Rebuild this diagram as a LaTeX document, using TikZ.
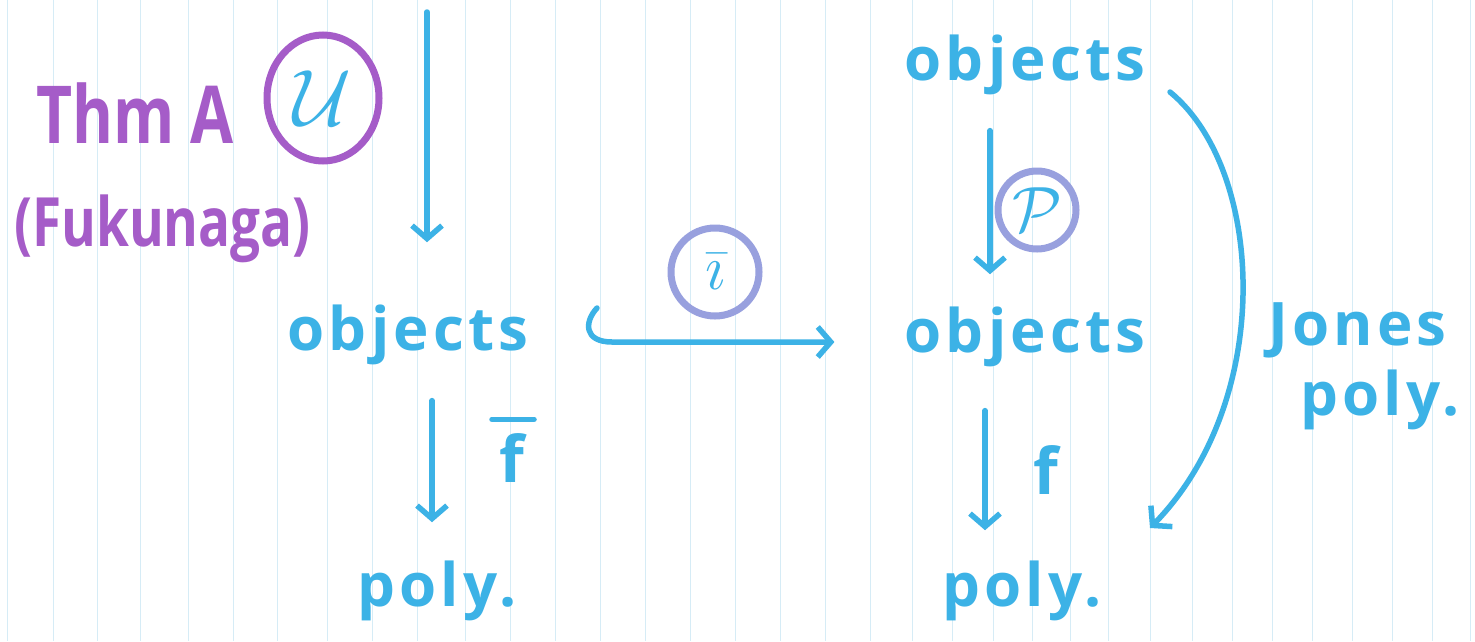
\RequirePackage{fix-cm}
\documentclass[tikz,border=0pt]{standalone}
\usepackage{fontspec}
\setmainfont{Open Sans}
\newfontfamily\hand[LetterSpace=7]{Open Sans}
\newfontfamily\handn[FakeStretch=0.78]{Open Sans}
\usetikzlibrary{arrows.meta,shapes.geometric}
\definecolor{inkblue}{RGB}{60,178,230}
\definecolor{inkpurple}{RGB}{165,92,200}
\definecolor{inklav}{RGB}{152,160,222}
\definecolor{rule}{RGB}{214,236,246}
\begin{document}
\begin{tikzpicture}[x=1pt,y=-1pt,
  txt/.style={text=inkblue, font=\hand\bfseries\fontsize{60}{66}\selectfont, inner sep=0pt, anchor=base},
  ptxt/.style={text=inkpurple, font=\handn\bfseries\fontsize{80}{88}\selectfont, inner sep=0pt, anchor=base west},
  pen/.style={draw=inkblue, line width=5.5pt, line cap=round, line join=round},
  arr/.style={pen, -{Straight Barb[length=13pt,width=30pt,line width=5.5pt]}},
  ring/.style={draw=#1, line width=7pt, text=inkblue, inner sep=0pt},
  lbl/.style={text=inkblue, font=\bfseries\fontsize{64}{70}\selectfont, inner sep=0pt}
]
\useasboundingbox (0,0) rectangle (1475,641);
\fill[white] (0,0) rectangle (1475,641);
\foreach \x in {7,53,97,140,188,233,277,327,372,417,465,510,555,600,645,690,735,780,825,870,912,952,993,1032,1070,1108,1150,1192,1232,1272,1312,1352,1392,1432,1470}
  \draw[rule, line width=1pt] (\x,0) -- (\x,641);

% left column
\node[ptxt] (thm) at (36,143) {Thm A};
\node[ptxt, font=\handn\bfseries\fontsize{68}{74}\selectfont] (fuk) at (14,246) {(Fukunaga)};
\node[ring=inkpurple, ellipse, minimum width=112pt, minimum height=126pt, font=\fontsize{80}{88}\selectfont] (U) at (323,98) {$\mathcal{U}$};

\coordinate (top) at (427,12);
\node[txt] (lobj) at (408,350) {objects};
\node[txt] (lpoly) at (437,606) {poly.};
\draw[arr, shorten >=62pt] (top) -- (top |- lobj.north);
\draw[arr, shorten <=36pt, shorten >=38pt] ([xshift=24pt]lobj.south) -- ([xshift=-5pt]lpoly.north);
\node[lbl] (fbar) at (512,458) {f};
\draw[pen] ([xshift=-20pt,yshift=14pt]fbar.north) -- ([xshift=22pt,yshift=14pt]fbar.north);

% right column
\node[txt] (tobj) at (1025,80) {objects};
\node[txt] (mobj) at (1025,352) {objects};
\node[txt] (rpoly) at (1022,606) {poly.};
\draw[arr, shorten <=36pt, shorten >=32pt] ([xshift=-35pt]tobj.south) -- ([xshift=-35pt]mobj.north);
\draw[arr, shorten <=44pt, shorten >=30pt] ([xshift=-40pt]mobj.south) -- ([xshift=-37pt]rpoly.north);
\node[ring=inklav, circle, minimum size=78pt, font=\fontsize{64}{70}\selectfont] (P) at (1037,210) {$\mathcal{P}$};
\node[lbl] (f) at (1046,470) {f};

% inclusion
\coordinate (hk) at (597,308);
\draw[arr, shorten >=70pt] (hk) .. controls (584,322) and (584,342) .. (612,342) -- (612,342 -| mobj.west);
\node[ring=inklav, circle, minimum size=88pt, font=\fontsize{64}{70}\selectfont] (ibar) at (715,272) {$\bar{\imath}$};

% Jones
\coordinate (j1) at (1170,92);
\coordinate (j2) at (1150,528);
\draw[arr] (j1) .. controls (1265,170) and (1275,400) .. (j2);
\node[txt, anchor=base west] (jones) at (1268,345) {Jones};
\node[txt, anchor=base west] (jpoly) at (1300,415) {poly.};
\end{tikzpicture}
\end{document}
